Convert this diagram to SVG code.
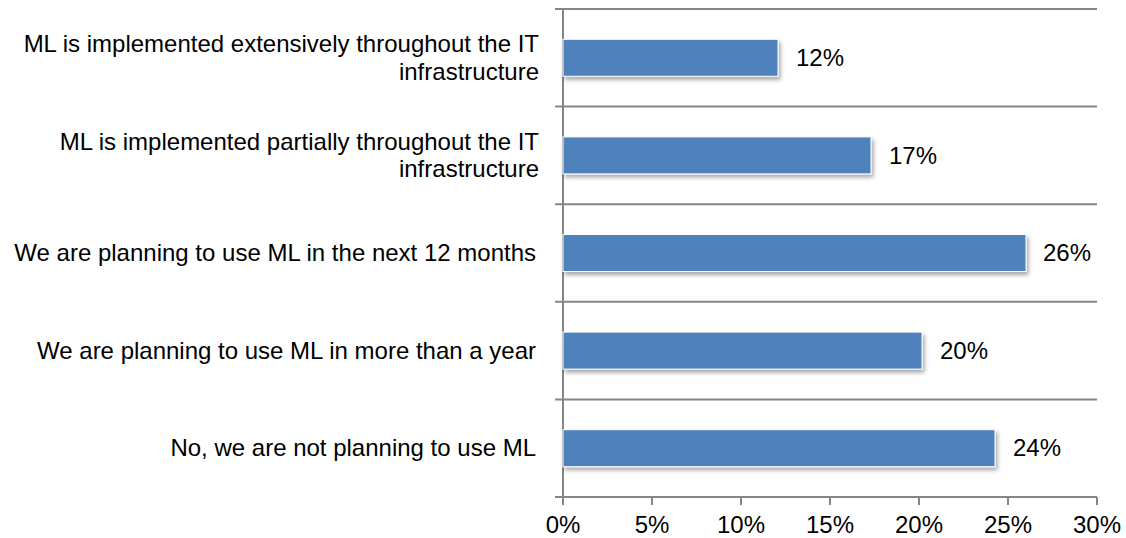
<svg xmlns="http://www.w3.org/2000/svg" width="1126" height="538" viewBox="0 0 1126 538">
<style>
text{font-family:"Liberation Sans",Arial,sans-serif;font-size:24px;fill:#000}
.cat{text-anchor:end}
.ax{text-anchor:middle}
.grid{stroke:#868686;stroke-width:2;fill:none}
.bar{fill:#4F81BD;stroke:#fff;stroke-width:1;filter:url(#sh)}
</style>
<defs>
<filter id="sh" x="-10%" y="-30%" width="130%" height="180%">
<feDropShadow dx="2" dy="3" stdDeviation="2" flood-color="#000" flood-opacity="0.35"/>
</filter>
</defs>
<rect width="1126" height="538" fill="#fff"/>
<g id="axes">
<path class="grid" d="M555 9H1097M555 106.6H1097M555 204.2H1097M555 301.8H1097M555 399.4H1097M555 497H1097"/>
<path class="grid" d="M563 9V505M652 497V505M741 497V505M830 497V505M919 497V505M1008 497V505M1097 497V505"/>
<text class="ax" x="563" y="533">0%</text>
<text class="ax" x="652" y="533">5%</text>
<text class="ax" x="741" y="533">10%</text>
<text class="ax" x="830" y="533">15%</text>
<text class="ax" x="919" y="533">20%</text>
<text class="ax" x="1008" y="533">25%</text>
<text class="ax" x="1097" y="533">30%</text>
</g>
<g id="row1">
<text class="cat" x="539" y="52">ML is implemented extensively throughout the IT</text>
<text class="cat" x="539" y="79.5">infrastructure</text>
<rect class="bar" x="563" y="39.3" width="215" height="37"/>
<text x="796" y="66">12%</text>
</g>
<g id="row2">
<text class="cat" x="539" y="149.6">ML is implemented partially throughout the IT</text>
<text class="cat" x="539" y="177.1">infrastructure</text>
<rect class="bar" x="563" y="136.9" width="308" height="37"/>
<text x="889" y="164">17%</text>
</g>
<g id="row3">
<text class="cat" x="536" y="261">We are planning to use ML in the next 12 months</text>
<rect class="bar" x="563" y="234.5" width="463" height="37"/>
<text x="1043" y="261">26%</text>
</g>
<g id="row4">
<text class="cat" x="536" y="358.5">We are planning to use ML in more than a year</text>
<rect class="bar" x="563" y="332.1" width="359" height="37"/>
<text x="940" y="358.5">20%</text>
</g>
<g id="row5">
<text class="cat" x="536" y="456">No, we are not planning to use ML</text>
<rect class="bar" x="563" y="429.7" width="432" height="37"/>
<text x="1013" y="456">24%</text>
</g>
</svg>
